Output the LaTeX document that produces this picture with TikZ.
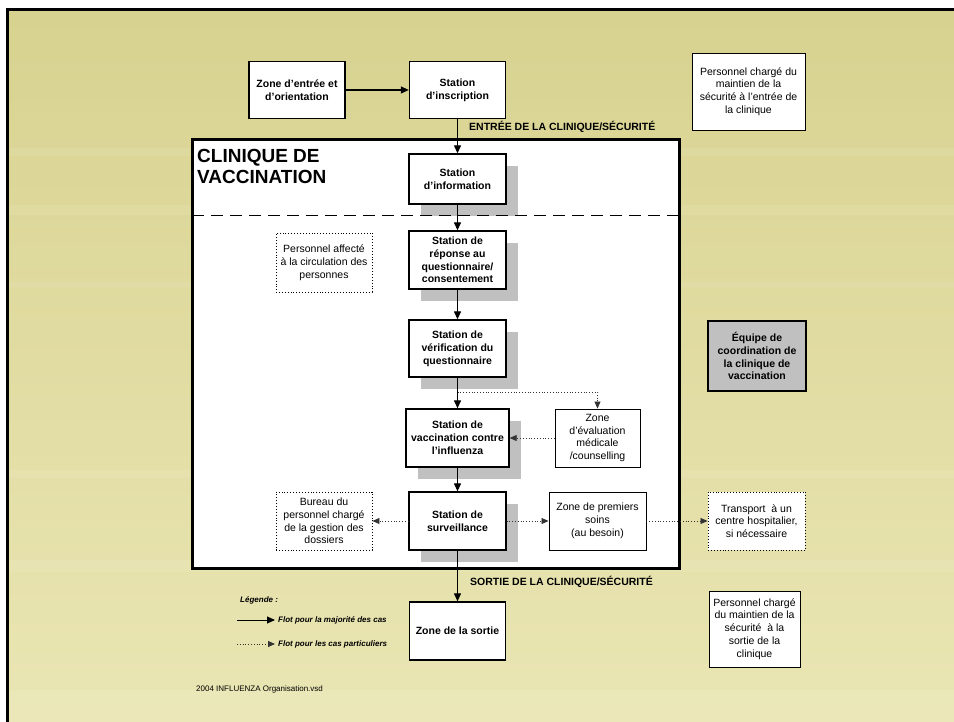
\documentclass[tikz,border=0pt]{standalone}
\usepackage{fontspec}
\setmainfont{Liberation Sans}
\usetikzlibrary{arrows.meta}
\usetikzlibrary{shadows}

\definecolor{bgtop}{RGB}{216,210,144}
\definecolor{bgbottom}{RGB}{234,230,180}
\definecolor{shadowgray}{RGB}{192,192,192}

\tikzset{
	box/.style={draw=black, fill=white, line width=0.9pt, align=center, inner sep=1pt,
		font=\fontsize{10.5}{12.8}\selectfont},
	station/.style={box, line width=1.3pt, font=\bfseries\fontsize{10.5}{12.8}\selectfont},
	stationsh/.style={station, drop shadow={shadow xshift=12pt, shadow yshift=-12pt, fill=shadowgray, opacity=1}},
	dotbox/.style={box, dotted, line width=0.9pt},
	flow/.style={line width=1.2pt, -{Triangle[length=8pt,width=7pt]}},
	special/.style={dotted, line width=0.8pt, black!80, -{Triangle[length=7pt,width=6pt]}},
	caption/.style={font=\bfseries\fontsize{10.5}{12}\selectfont, anchor=west, inner sep=0pt},
	legend/.style={font=\bfseries\itshape\fontsize{8}{9}\selectfont, anchor=west, inner sep=0pt},
}

\begin{document}
\begin{tikzpicture}[x=1pt, y=-1pt]
	\useasboundingbox (0,0) rectangle (954,722);

	% slide background
	\shade[top color=bgtop, bottom color=bgbottom] (7,10) rectangle (954,722);
	\foreach \y/\h in {148/8, 205/10, 282/6, 470/8, 560/12, 690/32} {
		\fill[white, opacity=0.08] (7,\y) rectangle (954,\y+\h);
	}
	\draw[line width=3pt] (7,722) -- (7,10) -- (954,10);

	% clinic frame
	\draw[line width=3pt, fill=white] (192,140) rectangle (679,568);
	\node[anchor=north west, inner sep=0pt, align=left,
		font=\bfseries\fontsize{19}{21}\selectfont] (title) at (197,149.5) {CLINIQUE DE\\VACCINATION};

	% outside the clinic
	\node[station, minimum width=96pt, minimum height=57pt] (zone) at (297,90) {Zone d'entrée et\\d'orientation};
	\node[station, minimum width=96pt, minimum height=57pt] (inscr) at (457.5,90) {Station\\d'inscription};
	\node[box, minimum width=113pt, minimum height=77pt] (persEntree) at (748.5,91.5)
		{Personnel chargé du\\maintien de la\\sécurité à l'entrée de\\la clinique};
	\node[station, fill=shadowgray, line width=2.2pt, minimum width=98pt, minimum height=70pt] (equipe) at (757,356)
		{Équipe de\\coordination de\\la clinique de\\vaccination};
	\node[dotbox, minimum width=97pt, minimum height=58pt] (transport) at (756.5,521)
		{Transport\ \ à un\\centre hospitalier,\\si nécessaire};
	\node[station, minimum width=96pt, minimum height=58pt] (sortie) at (457.5,631) {Zone de la sortie};
	\node[box, minimum width=91pt, minimum height=76pt] (persSortie) at (754.5,629)
		{Personnel chargé\\du maintien de la\\sécurité\ \ à la\\sortie de la\\clinique};

	% stations inside the clinic
	\node[stationsh, minimum width=97pt, minimum height=50pt] (info) at (457.5,179) {Station\\d'information};
	\node[stationsh, minimum width=97pt, minimum height=58pt] (reponse) at (457.5,260)
		{Station de\\réponse au\\questionnaire/\\consentement};
	\node[dotbox, minimum width=96pt, minimum height=59pt] (circulation) at (324,262.5)
		{Personnel affecté\\à la circulation des\\personnes};
	\node[stationsh, minimum width=97pt, minimum height=57pt] (verif) at (457.5,348.5)
		{Station de\\vérification du\\questionnaire};
	\node[stationsh, minimum width=103pt, minimum height=58pt] (vacc) at (457.5,438)
		{Station de\\vaccination contre\\l'influenza};
	\node[box, minimum width=85pt, minimum height=58pt] (evaluation) at (597.5,438)
		{Zone\\d'évaluation\\médicale\\/counselling};
	\node[stationsh, minimum width=97pt, minimum height=58pt] (surv) at (457.5,521) {Station de\\surveillance};
	\node[dotbox, minimum width=96pt, minimum height=58pt] (bureau) at (324,521)
		{Bureau du\\personnel chargé\\de la gestion des\\dossiers};
	\node[box, minimum width=97pt, minimum height=58pt] (soins) at (597.5,521)
		{Zone de premiers\\soins\\(au besoin)};

	% separation of the entrance part
	\draw[dash pattern=on 12pt off 7pt, line width=0.8pt] (192,215) -- (679,215);

	% main flow
	\draw[flow] (zone) -- (inscr);
	\draw[flow] (inscr) -- (info);
	\draw[flow] (info) -- (reponse);
	\draw[flow] (reponse) -- (verif);
	\draw[flow] (verif) -- (vacc);
	\draw[flow] (vacc) -- (surv);
	\draw[flow] (surv) -- (sortie);

	% particular cases
	\coordinate (fork) at (457.5,392);
	\draw[special] (fork) -| (evaluation.north);
	\draw[special] (evaluation) -- (vacc);
	\draw[special] (surv) -- (bureau);
	\draw[special] (surv) -- (soins);
	\draw[special] (soins) -- (transport);

	% labels on the flow
	\node[caption] (entreeLbl) at (469,127) {ENTRÉE DE LA CLINIQUE/SÉCURITÉ};
	\node[caption] (sortieLbl) at (470,582) {SORTIE DE LA CLINIQUE/SÉCURITÉ};

	% legend
	\node[legend] (legTitle) at (240,600) {Légende :};
	\coordinate (legA) at (237,620);
	\coordinate (legB) at (275,620);
	\coordinate (legC) at (237,644);
	\coordinate (legD) at (275,644);
	\draw[flow, line width=1pt] (legA) -- (legB);
	\draw[special] (legC) -- (legD);
	\node[legend] (legMain) at (278,620) {Flot pour la majorité des cas};
	\node[legend] (legOther) at (278,644) {Flot pour les cas particuliers};

	\node[anchor=west, inner sep=0pt, font=\fontsize{8}{9}\selectfont] (footer) at (196,689)
		{2004 INFLUENZA Organisation.vsd};
\end{tikzpicture}
\end{document}
